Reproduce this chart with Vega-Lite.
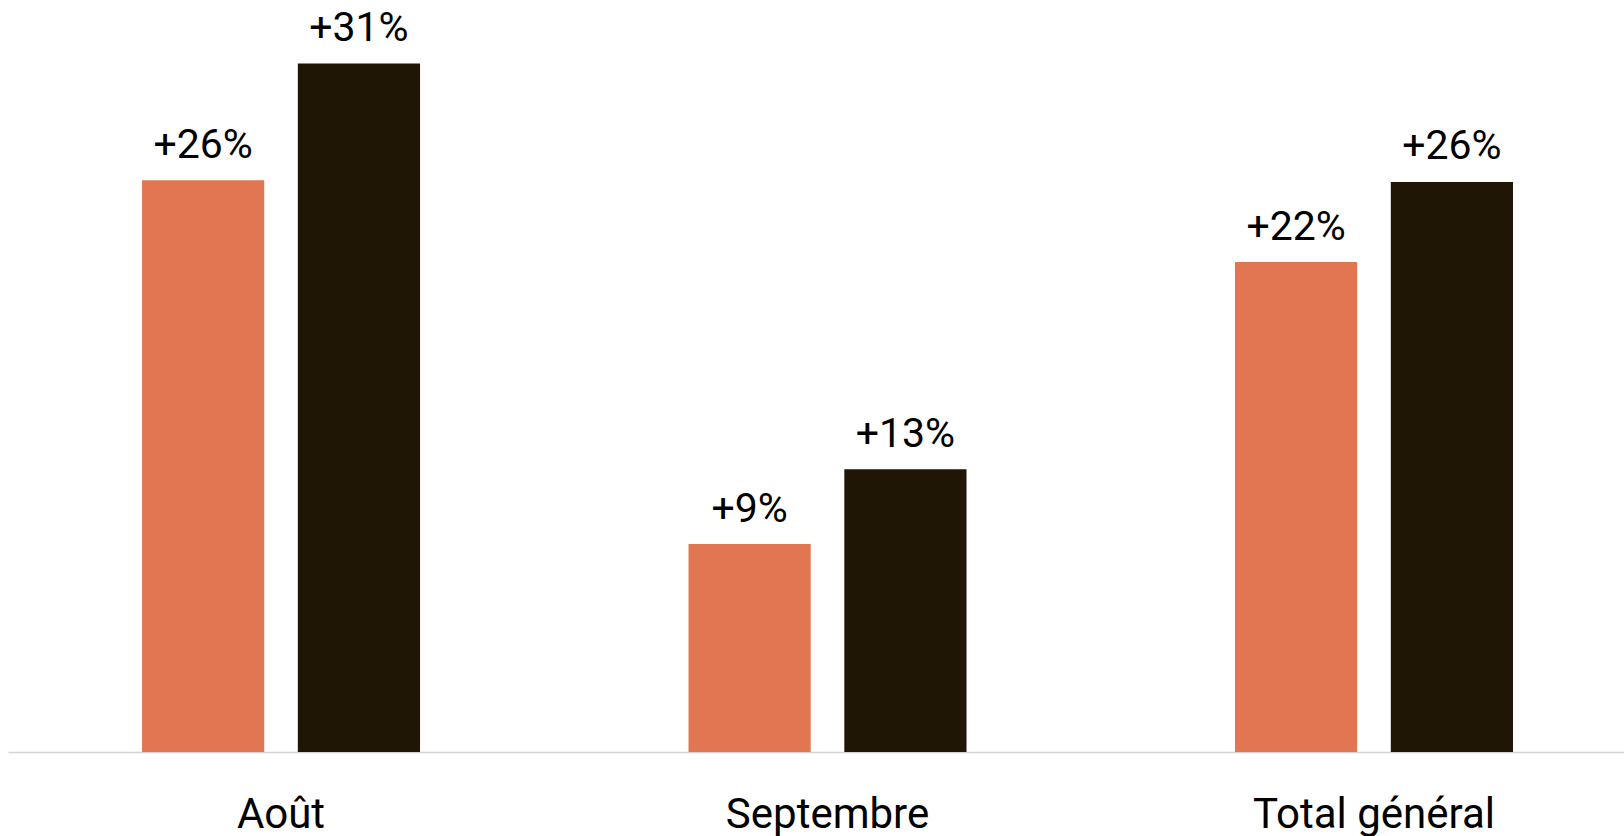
{
  "$schema": "https://vega.github.io/schema/vega-lite/v6.json",
  "width": 1616,
  "height": 752,
  "padding": {"left": 8, "top": 0, "right": 0, "bottom": 84},
  "autosize": {"type": "none"},
  "background": "white",
  "config": {"view": {"stroke": null}, "font": "Roboto"},
  "data": {
    "values": [
      {"mois": "Août", "serie": "A", "evolution": 0.2599},
      {"mois": "Août", "serie": "B", "evolution": 0.3129},
      {"mois": "Septembre", "serie": "A", "evolution": 0.0945},
      {"mois": "Septembre", "serie": "B", "evolution": 0.1285},
      {"mois": "Total général", "serie": "A", "evolution": 0.2227},
      {"mois": "Total général", "serie": "B", "evolution": 0.2591}
    ]
  },
  "encoding": {
    "x": {
      "field": "mois",
      "type": "nominal",
      "sort": null,
      "title": null,
      "scale": {"paddingInner": 0.4913, "paddingOuter": 0.2242, "align": 0.547},
      "axis": {
        "labelAngle": 0,
        "ticks": false,
        "tickSize": 0,
        "labelPadding": 42,
        "labelFontSize": 42,
        "labelFont": "Roboto",
        "labelColor": "#000000",
        "labelLimit": 500,
        "domainColor": "#d4d4d4",
        "domainWidth": 1.5,
        "grid": false
      }
    },
    "xOffset": {
      "field": "serie",
      "type": "nominal",
      "scale": {"paddingInner": 0.2157, "paddingOuter": 0}
    },
    "y": {
      "field": "evolution",
      "type": "quantitative",
      "scale": {"domain": [0, 0.3418], "nice": false, "zero": true},
      "axis": null
    }
  },
  "layer": [
    {
      "mark": {"type": "bar"},
      "encoding": {
        "color": {
          "field": "serie",
          "type": "nominal",
          "scale": {"domain": ["A", "B"], "range": ["#E37652", "#1F1606"]},
          "legend": null
        }
      }
    },
    {
      "mark": {"type": "text", "baseline": "alphabetic", "dy": -22.5, "fontSize": 41, "font": "Roboto", "color": "#000000"},
      "encoding": {
        "text": {"field": "evolution", "type": "quantitative", "format": "+.0%"}
      }
    }
  ]
}
